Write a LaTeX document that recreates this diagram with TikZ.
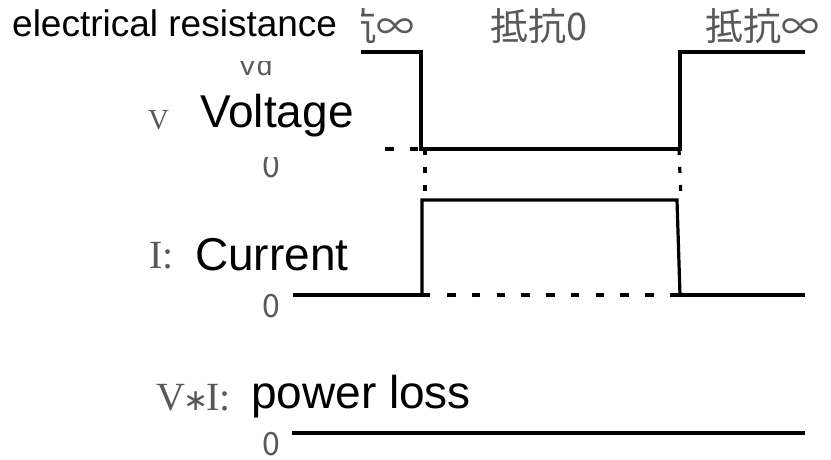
\documentclass[tikz,border=0pt]{standalone}
\usepackage{fontspec}
\newfontfamily\arialfont{Liberation Sans}
\newfontfamily\timesfont{Liberation Serif}
\newfontfamily\dvsfont{DejaVu Sans}
\newfontfamily\jpfont{Noto Sans CJK JP}
\definecolor{orig}{gray}{0.35}
\begin{document}
\begin{tikzpicture}[x=1pt,y=-1pt,
  wave/.style={line width=3.2pt, line join=miter},
  hdash/.style={line width=3.2pt, dash pattern=on 8.5pt off 16.25pt},
  vdashed/.style={line width=3.2pt, dash pattern=on 6pt off 12pt},
  jplabel/.style={text=orig, font=\jpfont\fontsize{38}{40}\selectfont, inner sep=0},
  zerolabel/.style={text=orig, font=\jpfont\fontsize{32}{34}\selectfont, anchor=base west, inner sep=0},
  origlabel/.style={text=orig, anchor=base west, inner sep=0},
  englabel/.style={text=black, font=\arialfont\fontsize{46}{50}\selectfont, anchor=base west, inner sep=0},
  cover/.style={fill=white, draw=none}]
\useasboundingbox (0,0) rectangle (831,460);

% ---------- original (Japanese) layer ----------
% resistance labels (left one partly hidden by the English overlay)
\begin{scope}
  \clip (361,0) rectangle (831,62);
  \node[jplabel, anchor=base east] (rinf1) at (415,41) {抗∞};
\end{scope}
\node[jplabel, anchor=base west] (rzero) at (490,41) {抵抗0};
\node[jplabel, anchor=base west] (rinf2) at (705,41) {抵抗∞};

% axis labels
\begin{scope}
  \clip (200,62) rectangle (300,90);
  \node[origlabel, font=\arialfont\fontsize{28}{30}\selectfont] (vd) at (238,76) {Vd};
\end{scope}
\node[origlabel, font=\timesfont\fontsize{29}{30}\selectfont] (vlab) at (148,129) {V};
\begin{scope}
  \clip (240,157) rectangle (300,190);
  \node[zerolabel] (vzero) at (262,177) {0};
\end{scope}
\node[origlabel, font=\timesfont\fontsize{40}{42}\selectfont] (ilab) at (149,268) {I:};
\node[zerolabel] (izero) at (262,317) {0};
\node[origlabel, font=\timesfont\fontsize{40}{42}\selectfont] (pilab) at (156,410)
  {V\kern-2pt{\dvsfont\fontsize{30}{30}\selectfont ∗}\kern-2pt I:};
\node[zerolabel] (pzero) at (262,455) {0};

% voltage waveform
\draw[wave] (361,52) -- (421,52) -- (421,149) -- (680,149) -- (680,52) -- (805,52);
\draw[hdash] (385,149) -- (421,149);
% transition markers
\draw[vdashed] (425,149) -- (425,199);
\draw[vdashed] (679,149) -- (681,199);

% current waveform
\draw[wave] (293,295) -- (430,295);
\draw[wave] (422,295) -- (422,200) -- (677,200) -- (680,295);
\draw[hdash] (447,295) -- (660,295);
\draw[wave] (670,295) -- (805,295);

% power loss
\draw[wave] (292,433) -- (805,433);

% ---------- English overlay ----------
\node[anchor=base west, inner sep=0, font=\arialfont\fontsize{37}{40}\selectfont] (eres) at (12,37) {electrical resistance};
\node[englabel] (evolt) at (200,128) {Voltage};
\node[englabel] (ecurr) at (195,270) {Current};
\node[englabel] (epow) at (251,408) {power loss};
\end{tikzpicture}
\end{document}
